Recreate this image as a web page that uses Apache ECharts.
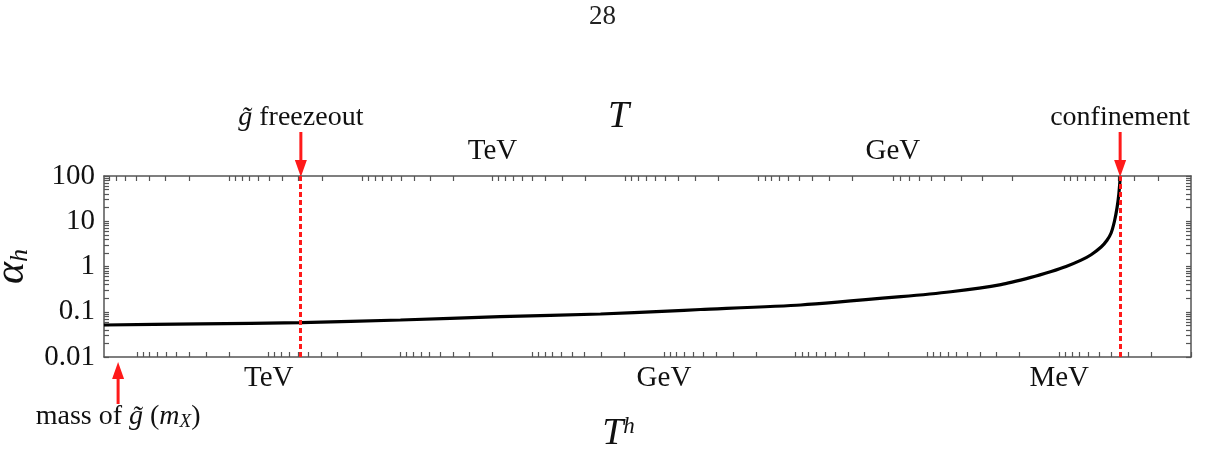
<!DOCTYPE html>
<html>
<head>
<meta charset="utf-8">
<script src="https://cdn.jsdelivr.net/npm/echarts@6/dist/echarts.min.js"></script>
<style>
  html, body { margin: 0; padding: 0; background: #fff; }
  #main { width: 1206px; height: 465px; }
</style>
</head>
<body>
<div id="main"></div>
<script>
// hidden temperature T^h (GeV) and the hidden coupling alpha_h
var thGeV = [17800, 3320, 568, 100, 17.5, 3.03, 0.94, 0.527, 0.0916, 0.0159, 0.00664,
  0.00277, 0.00164, 0.00115, 0.000887, 0.000682, 0.000573, 0.000481, 0.000434,
  0.000404, 0.000381, 0.000364, 0.000353, 0.000347, 0.000344];
var alphaH = [0.0509, 0.0542, 0.0573, 0.0658, 0.0778, 0.0891, 0.1035, 0.112, 0.141,
  0.215, 0.277, 0.398, 0.575, 0.776, 1.0, 1.38, 1.82, 2.69, 3.80,
  5.50, 10.0, 20.0, 39.8, 70.8, 100];

// visible temperature decades T (GeV) and where they sit on the T^h scale
var topDecadeT = [1e6, 1e5, 1e4, 1e3, 100, 10, 1, 0.1, 0.01];
var topDecadeTh = [20500, 2000, 195, 20.0, 1.96, 0.191, 0.0183, 0.000918, 0.0000867];

var bottomLabels = [[1000, 'TeV'], [1, 'GeV'], [0.001, 'MeV']];
var topLabels = [[1000, 'TeV'], [1, 'GeV']];
var yLabels = [0.01, 0.1, 1, 10, 100];

var thRange = [0.0001, 17800];
var freezeoutTh = 570;
var confinementTh = 0.000345;
var massTh = 13900;

var lg = Math.log10;
var RED = '#ff1a1a';
var SERIF = '"Liberation Serif", "DejaVu Serif", serif';

// log-decade ticks 1..9 x 10^n, in log10 space
function logTicks(lo, hi) {
  var out = [];
  for (var n = Math.floor(lo) - 1; n <= Math.ceil(hi); n++) {
    for (var k = 1; k <= 9; k++) {
      var v = n + lg(k);
      if (v >= lo - 1e-9 && v <= hi + 1e-9) out.push(v);
    }
  }
  return out;
}

// top axis: visible T ticks placed on the T^h scale decade by decade
function topTickPos(t) {
  for (var i = 0; i < topDecadeT.length - 1; i++) {
    var hiT = topDecadeT[i], loT = topDecadeT[i + 1];
    if (t <= hiT * 1.0000001 && t >= loT * 0.9999999) {
      var f = lg(t / loT);
      return lg(topDecadeTh[i + 1]) + f * (lg(topDecadeTh[i]) - lg(topDecadeTh[i + 1]));
    }
  }
  return null;
}

var xMin = lg(thRange[0]), xMax = 4.25;
var topTicks = [];
for (var i = 1; i < topDecadeT.length; i++) {
  for (var k = 1; k <= 9; k++) {
    var p = topTickPos(k * topDecadeT[i]);
    if (p !== null && p >= xMin && p <= xMax) topTicks.push(p);
  }
}
var bottomTicks = logTicks(xMin, xMax);
var yTicks = logTicks(-2, 2);

function nearestLabel(list, v, map) {
  for (var i = 0; i < list.length; i++) {
    if (Math.abs(map(list[i][0]) - v) < 1e-6) return list[i][1];
  }
  return '';
}

var axisLine = { show: true, onZero: false, lineStyle: { color: '#555', width: 1.5 } };
var tickStyle = { show: true, inside: true, length: 5, lineStyle: { color: '#555', width: 1.2 } };

var chart = echarts.init(document.getElementById('main'));

chart.setOption({
  animation: false,
  backgroundColor: '#fff',
  grid: { left: 104, right: 15, top: 176, bottom: 108, containLabel: false, outerBoundsMode: 'none' },
  xAxis: [{
    type: 'value', position: 'bottom', inverse: true, min: xMin, max: xMax,
    axisLine: axisLine, splitLine: { show: false },
    axisTick: Object.assign({}, tickStyle, { customValues: bottomTicks }),
    axisLabel: {
      customValues: bottomLabels.map(function (d) { return lg(d[0]); }),
      formatter: function (v) { return nearestLabel(bottomLabels, v, lg); },
      color: '#111', fontFamily: SERIF, fontSize: 29, margin: 7
    },
    name: '{t|T}{s|h}', nameLocation: 'middle', nameGap: 58,
    nameTextStyle: {
      padding: [0, 58, 0, 0],
      rich: {
        t: { fontFamily: SERIF, fontStyle: 'italic', fontSize: 38, color: '#111' },
        s: { fontFamily: SERIF, fontStyle: 'italic', fontSize: 23, color: '#111', verticalAlign: 'top', padding: [0, 0, 14, 0] }
      }
    }
  }, {
    type: 'value', position: 'top', inverse: true, min: xMin, max: xMax,
    axisLine: axisLine, splitLine: { show: false },
    axisTick: Object.assign({}, tickStyle, { customValues: topTicks }),
    axisLabel: {
      customValues: topLabels.map(function (d) { return topTickPos(d[0]); }),
      formatter: function (v) { return nearestLabel(topLabels, v, topTickPos); },
      color: '#111', fontFamily: SERIF, fontSize: 29, margin: 10
    },
    name: 'T', nameLocation: 'middle', nameGap: 40,
    nameTextStyle: { fontFamily: SERIF, fontStyle: 'italic', fontSize: 38, color: '#111', padding: [0, 58, 0, 0] }
  }],
  yAxis: [{
    type: 'value', position: 'left', min: -2, max: 2,
    axisLine: axisLine, splitLine: { show: false },
    axisTick: Object.assign({}, tickStyle, { customValues: yTicks }),
    axisLabel: {
      customValues: yLabels.map(lg),
      formatter: function (v) {
        var i = yLabels.map(lg).findIndex(function (x) { return Math.abs(x - v) < 1e-6; });
        return i < 0 ? '' : String(yLabels[i]);
      },
      color: '#111', fontFamily: SERIF, fontSize: 29, margin: 9
    },
    name: '{a|α}{s|h}', nameLocation: 'middle', nameGap: 68, nameRotate: 90,
    nameTextStyle: {
      rich: {
        a: { fontFamily: SERIF, fontStyle: 'italic', fontSize: 42, color: '#111' },
        s: { fontFamily: SERIF, fontStyle: 'italic', fontSize: 26, color: '#111', verticalAlign: 'bottom' }
      }
    }
  }, {
    type: 'value', position: 'right', min: -2, max: 2,
    axisLine: axisLine, splitLine: { show: false },
    axisTick: Object.assign({}, tickStyle, { customValues: yTicks }),
    axisLabel: { show: false }
  }],
  series: [{
    type: 'line',
    xAxisIndex: 0, yAxisIndex: 0,
    data: thGeV.map(function (t, i) { return [lg(t), lg(alphaH[i])]; }),
    showSymbol: false, smooth: 0.2,
    lineStyle: { color: '#000', width: 3.2 },
    z: 3,
    markLine: {
      silent: true, symbol: 'none', animation: false,
      label: { show: false },
      lineStyle: { color: RED, width: 3, type: [5, 3] },
      data: [{ xAxis: lg(freezeoutTh) }, { xAxis: lg(confinementTh) }]
    }
  }]
});

// arrows and notes, placed through the axes
function px(th) { return chart.convertToPixel({ xAxisIndex: 0 }, lg(th)); }
var yTop = chart.convertToPixel({ yAxisIndex: 0 }, 2);
var yBot = chart.convertToPixel({ yAxisIndex: 0 }, -2);

function arrow(x, yFrom, yTo) {
  var dir = yTo > yFrom ? 1 : -1;
  var headLen = 17, headW = 6;
  var yBase = yTo - dir * headLen;
  return {
    type: 'group', silent: true, z: 10,
    children: [{
      type: 'line', shape: { x1: x, y1: yFrom, x2: x, y2: yBase },
      style: { stroke: RED, lineWidth: 3 }
    }, {
      type: 'polygon', shape: { points: [[x - headW, yBase], [x + headW, yBase], [x, yTo]] },
      style: { fill: RED }
    }]
  };
}

var noteFont = { fontFamily: SERIF, fontSize: 28, fill: '#111' };
var gRich = {
  g: { fontFamily: SERIF, fontStyle: 'italic', fontSize: 28 },
  i: { fontFamily: SERIF, fontStyle: 'italic', fontSize: 28 },
  sub: { fontFamily: SERIF, fontStyle: 'italic', fontSize: 19, verticalAlign: 'bottom', padding: [8, 0, 0, 0] }
};

chart.setOption({
  graphic: [
    { type: 'text', left: 589, top: 3, style: { text: '28', fontFamily: SERIF, fontSize: 27, fill: '#222' } },
    arrow(px(freezeoutTh), 132, yTop + 1),
    arrow(px(confinementTh), 132, yTop + 1),
    arrow(px(massTh), 404, yBot + 5),
    { type: 'text', x: px(freezeoutTh), y: 118, silent: true,
      style: Object.assign({ text: '{g|g̃} freezeout', align: 'center', verticalAlign: 'middle', rich: gRich }, noteFont) },
    { type: 'text', x: px(confinementTh), y: 118, silent: true,
      style: Object.assign({ text: 'confinement', align: 'center', verticalAlign: 'middle' }, noteFont) },
    { type: 'text', x: px(massTh), y: 417, silent: true,
      style: Object.assign({ text: 'mass of {g|g̃} ({i|m}{sub|X})', align: 'center', verticalAlign: 'middle', rich: gRich }, noteFont) }
  ]
});
</script>
</body>
</html>
